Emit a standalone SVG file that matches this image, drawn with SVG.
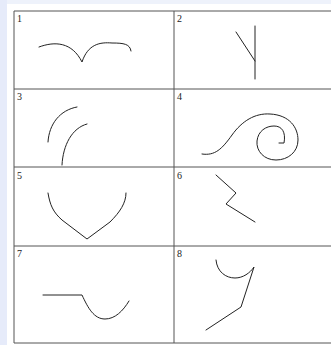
<svg xmlns="http://www.w3.org/2000/svg" width="331" height="345" viewBox="0 0 331 345">
<style>
.grid{stroke:#555;stroke-width:1;fill:none}
.stroke{stroke:#222;stroke-width:1;fill:none;stroke-linecap:round;stroke-linejoin:miter}
.num{font-family:"Liberation Serif",serif;font-size:10px;fill:#222}
</style>
<rect x="0" y="0" width="331" height="345" fill="#ffffff"/>
<rect x="0" y="0" width="331" height="4" fill="#eef2fb"/>
<rect x="0" y="0" width="7" height="345" fill="#e6ebfa"/>
<g id="grid">
<path class="grid" d="M14 11H331M14 89H331M14 167H331M14 246H331M14 343H331M14 11V343M174 11V343"/>
</g>
<g id="cell1"><text class="num" x="17" y="22">1</text>
<path class="stroke" d="M39 47C55 41 72 42 82 62C88 44 100 42 112 43C124 43 130 44 131 51"/></g>
<g id="cell2"><text class="num" x="177" y="22">2</text>
<path class="stroke" d="M236 32L255 61"/><path class="stroke" stroke="#666" d="M255 26V79"/></g>
<g id="cell3"><text class="num" x="17" y="100">3</text>
<path class="stroke" d="M77 107C60 110 49 124 48 142"/><path class="stroke" d="M87 124C72 128 63 145 62 165"/></g>
<g id="cell4"><text class="num" x="177" y="100">4</text>
<path class="stroke" d="M202 154C215 156 222 149 232 135C242 121 255 113 270 114C290 115 298 128 298 140C298 152 288 160 276 160C264 160 256 151 257 141C258 131 266 126 274 126C282 126 286 132 284 143L279 143"/></g>
<g id="cell5"><text class="num" x="17" y="179">5</text>
<path class="stroke" d="M48 193C50 205 53 212 62 220L87 239L110 222C120 212 126 203 126 193"/></g>
<g id="cell6"><text class="num" x="177" y="179">6</text>
<path class="stroke" d="M216 175L236 193L226 204L255 222"/></g>
<g id="cell7"><text class="num" x="17" y="257">7</text>
<path class="stroke" d="M43 295H82C88 308 94 319 105 319C115 319 123 311 129 301"/></g>
<g id="cell8"><text class="num" x="177" y="257">8</text>
<path class="stroke" d="M216 260C217 272 226 278 235 278C243 278 250 273 254 267L241 307L206 330"/></g>
</svg>
